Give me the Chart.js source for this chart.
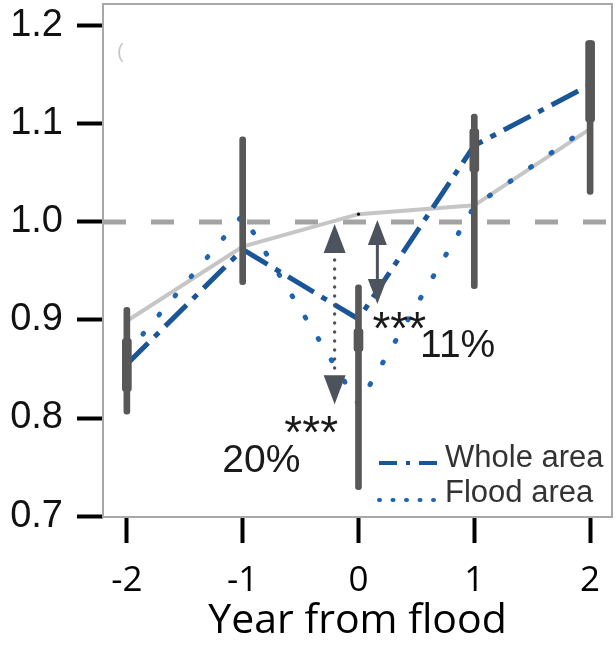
<!DOCTYPE html>
<html>
<head>
<meta charset="utf-8">
<script src="https://cdn.jsdelivr.net/npm/chart.js@4/dist/chart.umd.min.js"></script>
<style>
  html, body { margin: 0; padding: 0; background: #fff; }
  #wrap { width: 616px; height: 663px; }
</style>
</head>
<body>
<div id="wrap"><canvas id="floodChart" width="616" height="663"></canvas></div>
<script>
// years from the flood and the tick labels under them
var years = [-2, -1, 0, 1, 2];
var yearLabels = ['-2', '-1', '0', '1', '2'];
var yTicks = [0.7, 0.8, 0.9, 1.0, 1.1, 1.2];

// relative values
var wholeArea = [0.855, 0.972, 0.901, 1.078, 1.140];
var floodArea = [0.866, 1.007, 0.814, 1.016, 1.098];
var greyLine = [0.899, 0.975, 1.008, 1.017, 1.095];

// vertical bars (long thin one and short thick one)
var barLow = [0.804, 0.936, 0.727, 0.932, 1.028];
var barHigh = [0.913, 1.087, 0.936, 1.110, 1.185];
var innerLow = [0.827, null, 0.868, 1.051, 1.102];
var innerHigh = [0.881, null, 0.891, 1.095, 1.185];

var baseline = 1.0;

// text notes, in axis units
var notes = [
    { text: '***', x: 0.12, y: 0.875, size: 46 },
    { text: '11%', x: 0.532, y: 0.8625, size: 39 },
    { text: '***', x: -0.64, y: 0.769, size: 46 },
    { text: '20%', x: -1.176, y: 0.745, size: 39 }
];

function points(vals) {
    return years.map(function(yr, i) { return { x: yr, y: vals[i] }; });
}
function ranges(lo, hi) {
    var out = [];
    years.forEach(function(yr, i) {
        if (lo[i] !== null) out.push({ x: yr, y: [lo[i], hi[i]] });
    });
    return out;
}

function triangle(ctx, x, tipY, dir, w, h) {
    ctx.beginPath();
    ctx.moveTo(x, tipY);
    ctx.lineTo(x - w / 2, tipY - dir * h);
    ctx.lineTo(x + w / 2, tipY - dir * h);
    ctx.closePath();
    ctx.fill();
}

var decorations = {
    id: 'decorations',
    beforeDatasetsDraw: function(chart) {
        var ctx = chart.ctx, a = chart.chartArea, y = chart.scales.y;
        ctx.save();
        ctx.strokeStyle = '#a8a8a8';
        ctx.lineWidth = 2;
        ctx.strokeRect(a.left, a.top, a.right - a.left, a.bottom - a.top);
        var yb = y.getPixelForValue(baseline);
        ctx.setLineDash([23, 25]);
        ctx.lineWidth = 5;
        ctx.strokeStyle = '#a3a3a3';
        ctx.beginPath();
        ctx.moveTo(a.left, yb);
        ctx.lineTo(a.right, yb);
        ctx.stroke();
        ctx.setLineDash([]);
        ctx.fillStyle = '#c8c8c8';
        ctx.font = '20px "Liberation Sans"';
        ctx.fillText('(', a.left + 14, a.top + 54);
        ctx.restore();
    },
    afterDatasetsDraw: function(chart) {
        var ctx = chart.ctx, a = chart.chartArea;
        var x = chart.scales.x, y = chart.scales.y;
        var i0 = years.indexOf(0);
        var yb = y.getPixelForValue(baseline);
        ctx.save();
        ctx.fillStyle = '#4d535d';
        ctx.strokeStyle = '#4d535d';

        // dotted arrow: baseline down to flood area value
        var xd = x.getPixelForValue(-0.206);
        var top = yb + 2, bot = y.getPixelForValue(floodArea[i0]);
        triangle(ctx, xd, top, -1, 22, 29);
        triangle(ctx, xd, bot, 1, 22, 29);
        for (var p = top + 36; p < bot - 32; p += 9) {
            ctx.beginPath();
            ctx.arc(xd, p, 1.7, 0, Math.PI * 2);
            ctx.fill();
        }

        // solid arrow: baseline down to whole area value
        var xs = x.getPixelForValue(0.163);
        var top2 = yb - 2, bot2 = y.getPixelForValue(wholeArea[i0]) - 15;
        triangle(ctx, xs, top2, -1, 19, 25);
        triangle(ctx, xs, bot2, 1, 19, 25);
        ctx.lineWidth = 3;
        ctx.beginPath();
        ctx.moveTo(xs, top2 + 20);
        ctx.lineTo(xs, bot2 - 20);
        ctx.stroke();

        // notes
        ctx.fillStyle = '#1a1a1a';
        ctx.textAlign = 'left';
        ctx.textBaseline = 'alphabetic';
        notes.forEach(function(n) {
            ctx.font = n.size + 'px "Liberation Sans"';
            ctx.fillText(n.text, x.getPixelForValue(n.x), y.getPixelForValue(n.y));
        });

        // legend in the lower right corner
        var items = [
            { ds: chart.data.datasets[0], dash: [18, 9, 4, 9], cap: 'butt', lineY: a.bottom - 54, textY: a.bottom - 59 },
            { ds: chart.data.datasets[1], dash: [1, 12.5], cap: 'round', lineY: a.bottom - 17, textY: a.bottom - 24 }
        ];
        ctx.font = '31px "Liberation Sans"';
        ctx.textBaseline = 'middle';
        items.forEach(function(it) {
            ctx.strokeStyle = it.ds.borderColor;
            ctx.lineWidth = 4;
            ctx.lineCap = it.cap;
            ctx.setLineDash(it.dash);
            ctx.beginPath();
            ctx.moveTo(a.right - 233, it.lineY);
            ctx.lineTo(a.right - 175, it.lineY);
            ctx.stroke();
            ctx.setLineDash([]);
            ctx.fillStyle = '#333';
            ctx.fillText(it.ds.label, a.right - 167, it.textY);
        });
        ctx.restore();
    }
};

var ctx = document.getElementById('floodChart').getContext('2d');
var floodChart = new Chart(ctx, {
    type: 'line',
    data: {
        datasets: [{
            label: 'Whole area',
            data: points(wholeArea),
            borderColor: '#1a5597',
            borderWidth: 5,
            borderDash: [30, 9, 6, 9],
            borderCapStyle: 'butt',
            pointRadius: 1.6,
            pointBorderWidth: 0,
            pointBackgroundColor: '#111',
            tension: 0,
            fill: false,
            order: 2
        }, {
            label: 'Flood area',
            data: points(floodArea),
            borderColor: '#1f64b1',
            borderWidth: 5,
            borderDash: [1, 24],
            borderCapStyle: 'round',
            pointRadius: 0,
            tension: 0,
            fill: false,
            order: 2
        }, {
            label: 'Grey',
            data: points(greyLine),
            borderColor: '#c6c6c6',
            borderWidth: 4,
            pointRadius: 1.6,
            pointBorderWidth: 0,
            pointBackgroundColor: '#111',
            tension: 0,
            fill: false,
            order: 3
        }, {
            type: 'bar',
            label: 'Range',
            data: ranges(barLow, barHigh),
            backgroundColor: '#585858',
            barThickness: 6,
            borderRadius: 3,
            borderSkipped: false,
            grouped: false,
            order: 0
        }, {
            type: 'bar',
            label: 'Range inner',
            data: ranges(innerLow, innerHigh),
            backgroundColor: '#575757',
            barThickness: 9,
            borderRadius: 3,
            borderSkipped: false,
            grouped: false,
            order: 0
        }]
    },
    options: {
        responsive: false,
        animation: false,
        devicePixelRatio: 1,
        layout: { padding: { top: 3, right: 1, left: 0, bottom: 0 } },
        plugins: {
            legend: { display: false },
            tooltip: { enabled: false }
        },
        scales: {
            x: {
                type: 'linear',
                min: -2.206,
                max: 2.189,
                offset: false,
                afterBuildTicks: function(s) {
                    s.ticks = years.map(function(v) { return { value: v }; });
                },
                afterFit: function(s) {
                    s.height = 146;
                    s.paddingLeft = 0;
                    s.paddingRight = 0;
                },
                ticks: {
                    autoSkip: false,
                    maxRotation: 0,
                    padding: 17,
                    color: '#000',
                    font: { family: 'Open Sans', size: 35 },
                    callback: function(v) { return yearLabels[years.indexOf(v)]; }
                },
                grid: { drawOnChartArea: false, offset: false, tickLength: 26, tickWidth: 4, tickColor: '#000' },
                border: { display: false },
                title: {
                    display: true,
                    text: 'Year from flood',
                    color: '#000',
                    font: { family: 'Open Sans', size: 41 },
                    padding: { top: 0, bottom: 17 }
                }
            },
            y: {
                type: 'linear',
                min: 0.699,
                max: 1.2224,
                afterBuildTicks: function(s) {
                    s.ticks = yTicks.map(function(v) { return { value: v }; });
                },
                afterFit: function(s) {
                    s.width = 103;
                    s.paddingTop = 0;
                    s.paddingBottom = 0;
                },
                ticks: {
                    padding: 14,
                    color: '#111',
                    font: { family: 'Liberation Sans', size: 38 },
                    callback: function(v) { return v.toFixed(1); }
                },
                grid: { drawOnChartArea: false, tickLength: 26, tickWidth: 4, tickColor: '#000' },
                border: { display: false }
            }
        }
    },
    plugins: [decorations]
});
</script>
</body>
</html>
